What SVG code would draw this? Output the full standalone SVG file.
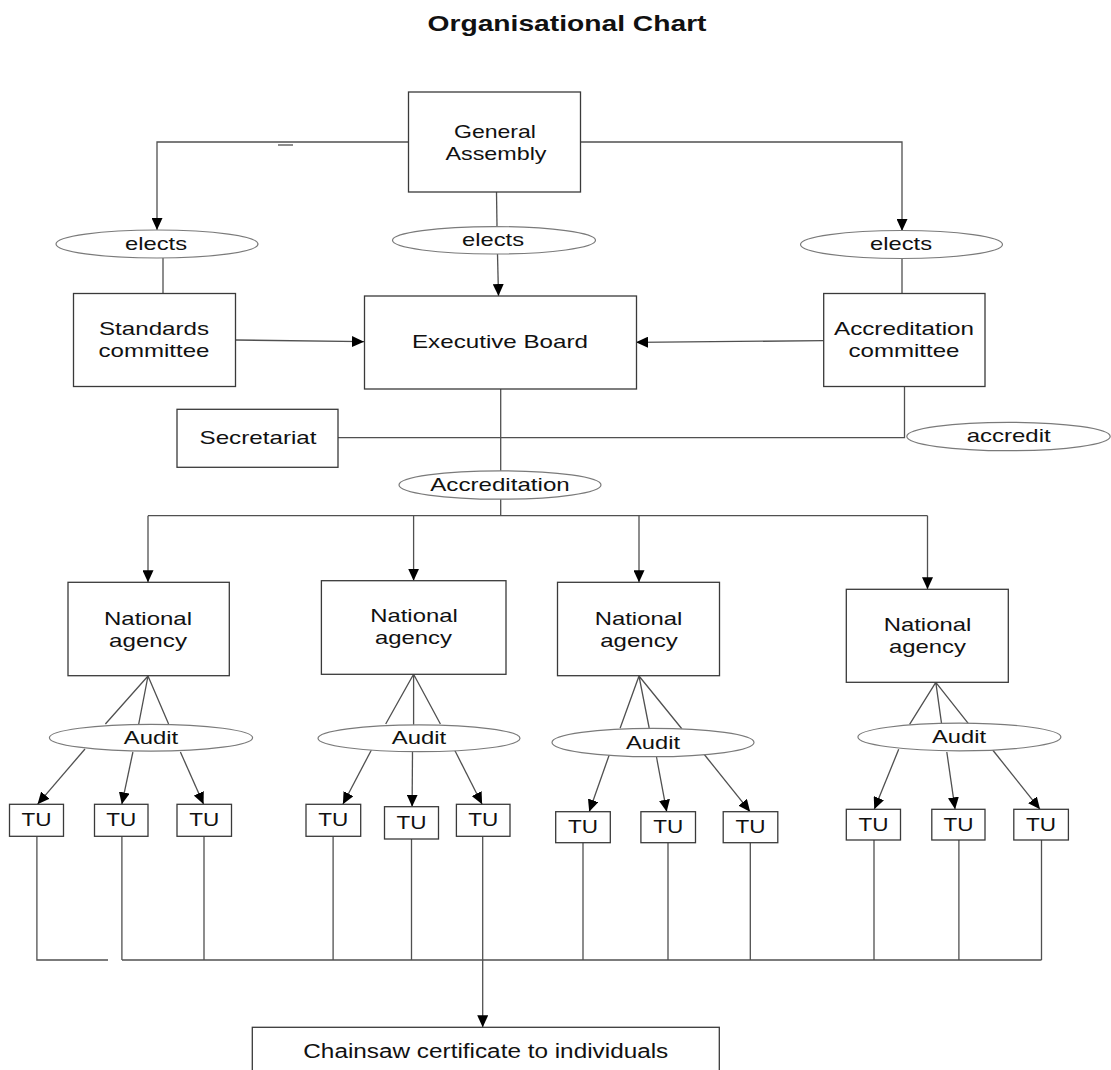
<svg xmlns="http://www.w3.org/2000/svg" width="1111" height="1070" viewBox="0 0 1111 1070">
<style>
.box{fill:#fff;stroke:#3a3a3a;stroke-width:1.3}
.ell{fill:#fff;stroke:#7a7a7a;stroke-width:1.2}
.ln{fill:none;stroke:#505050;stroke-width:1.3}
.arr{fill:none;stroke:#505050;stroke-width:1.3;marker-end:url(#ah)}
text{font-family:"Liberation Sans",Arial,sans-serif;font-size:19px;fill:#111;text-anchor:middle}
.title{font-size:22px;font-weight:bold}
</style>
<defs>
<marker id="ah" markerWidth="12" markerHeight="11" refX="12" refY="5.5" orient="auto" markerUnits="userSpaceOnUse">
<path d="M0,0 L12,5.5 L0,11 z" fill="#000"/>
</marker>
</defs>
<rect width="1111" height="1070" fill="#fff"/>
<text class="title" x="567" y="31" textLength="279" lengthAdjust="spacingAndGlyphs">Organisational Chart</text>

<g id="connectors">
<path class="arr" d="M408,142 H157 V230"/>
<path class="ln" d="M278,145 H293"/>
<path class="arr" d="M581,142 H902 V231"/>
<path class="ln" d="M496.5,192 L497,226.5"/>
<path class="arr" d="M497.5,254 L498.5,296"/>
<path class="ln" d="M163,258 V293.5"/>
<path class="ln" d="M902,258.5 V293.5"/>
<path class="arr" d="M235.5,340 L364,341.7"/>
<path class="arr" d="M823.7,340.7 L636,342.3"/>
<path class="ln" d="M500.7,389 V471"/>
<path class="ln" d="M500.7,499 V515.7"/>
<path class="ln" d="M338,437.7 H904.5 V386.7"/>
<path class="ln" d="M148,515.7 H927.5"/>
<path class="arr" d="M148,515.7 V582.3"/>
<path class="arr" d="M413.6,515.7 V580.7"/>
<path class="arr" d="M639,515.7 V582.3"/>
<path class="arr" d="M927.5,515.7 V589.3"/>
<!-- NA1 fan -->
<path class="ln" d="M105.4,724 L148,676 L138.6,724.7 M148,676 L168.6,724"/>
<path class="arr" d="M85,749 L37.5,804.3"/>
<path class="arr" d="M132.9,752 L121.8,804.3"/>
<path class="arr" d="M180.4,752 L203.6,804.3"/>
<!-- NA2 fan -->
<path class="ln" d="M385.7,724 L413.6,674.3 L413.6,724.7 M413.6,674.3 L440.4,724"/>
<path class="arr" d="M371.4,750 L342.9,804.3"/>
<path class="arr" d="M412.5,752 L412.1,806.7"/>
<path class="arr" d="M454.6,750 L482.1,804.3"/>
<!-- NA3 fan -->
<path class="ln" d="M620.1,728.3 L639,676 L649.2,728 M639,676 L682,729"/>
<path class="arr" d="M609.2,755 L589.2,811.7"/>
<path class="arr" d="M656.5,757 L666.7,811.7"/>
<path class="arr" d="M703.9,754 L750.1,811.7"/>
<!-- NA4 fan -->
<path class="ln" d="M909.6,724.3 L935.8,682.3 L941.7,724.7 M935.8,682.3 L969,724.3"/>
<path class="arr" d="M898.7,749.3 L874.3,809.3"/>
<path class="arr" d="M946.8,752 L955.1,809.3"/>
<path class="arr" d="M992.7,750 L1040,809.3"/>
<!-- TU down lines -->
<path class="ln" d="M36.9,836.3 V960 H108"/>
<path class="ln" d="M122,960 H1041.5"/>
<path class="ln" d="M121.9,836.3 V960 M204,836.3 V960 M333.1,836.3 V960 M411.5,839 V960 M583,842.7 V960 M668,842.7 V960 M750.3,842.7 V960 M874,840 V960 M958.9,840 V960 M1041.5,840 V960"/>
<path class="arr" d="M482.7,836.3 V1027.3"/>
</g>

<g id="general-assembly">
<rect class="box" x="408.5" y="92" width="172" height="100"/>
<text x="495" y="138" textLength="82" lengthAdjust="spacingAndGlyphs">General</text>
<text x="496" y="160" textLength="101" lengthAdjust="spacingAndGlyphs">Assembly</text>
</g>
<g id="elects-left">
<ellipse class="ell" cx="157" cy="244" rx="101" ry="14"/>
<text x="156" y="250" textLength="62" lengthAdjust="spacingAndGlyphs">elects</text>
</g>
<g id="elects-middle">
<ellipse class="ell" cx="494" cy="240.3" rx="101.5" ry="13.7"/>
<text x="493" y="246" textLength="62" lengthAdjust="spacingAndGlyphs">elects</text>
</g>
<g id="elects-right">
<ellipse class="ell" cx="901.5" cy="244.5" rx="101" ry="14"/>
<text x="901" y="250" textLength="62" lengthAdjust="spacingAndGlyphs">elects</text>
</g>
<g id="standards-committee">
<rect class="box" x="73.5" y="293.5" width="162" height="93"/>
<text x="154" y="335" textLength="110" lengthAdjust="spacingAndGlyphs">Standards</text>
<text x="154" y="357" textLength="111" lengthAdjust="spacingAndGlyphs">committee</text>
</g>
<g id="executive-board">
<rect class="box" x="364.5" y="296" width="272" height="93"/>
<text x="500" y="348" textLength="176" lengthAdjust="spacingAndGlyphs">Executive Board</text>
</g>
<g id="accreditation-committee">
<rect class="box" x="823.7" y="293.5" width="161.3" height="93"/>
<text x="904" y="335" textLength="140" lengthAdjust="spacingAndGlyphs">Accreditation</text>
<text x="904" y="357" textLength="111" lengthAdjust="spacingAndGlyphs">committee</text>
</g>
<g id="secretariat">
<rect class="box" x="177" y="409.3" width="161" height="58"/>
<text x="258" y="443.5" textLength="117" lengthAdjust="spacingAndGlyphs">Secretariat</text>
</g>
<g id="accredit">
<ellipse class="ell" cx="1008.5" cy="436.5" rx="101.7" ry="14.2"/>
<text x="1008.7" y="442" textLength="84" lengthAdjust="spacingAndGlyphs">accredit</text>
</g>
<g id="accreditation">
<ellipse class="ell" cx="500" cy="485" rx="101" ry="14.2"/>
<text x="500" y="490.5" textLength="139.5" lengthAdjust="spacingAndGlyphs">Accreditation</text>
</g>

<g id="national-agency-1">
<rect class="box" x="68" y="582.3" width="161.3" height="93.4"/>
<text x="148" y="624.5" textLength="88" lengthAdjust="spacingAndGlyphs">National</text>
<text x="148" y="646.5" textLength="78" lengthAdjust="spacingAndGlyphs">agency</text>
</g>
<g id="national-agency-2">
<rect class="box" x="321.4" y="580.7" width="184.6" height="93.6"/>
<text x="414" y="621.7" textLength="87.5" lengthAdjust="spacingAndGlyphs">National</text>
<text x="413.5" y="644" textLength="77" lengthAdjust="spacingAndGlyphs">agency</text>
</g>
<g id="national-agency-3">
<rect class="box" x="557.5" y="582.3" width="162" height="93.4"/>
<text x="638.5" y="624.5" textLength="87.5" lengthAdjust="spacingAndGlyphs">National</text>
<text x="639" y="646.5" textLength="77.5" lengthAdjust="spacingAndGlyphs">agency</text>
</g>
<g id="national-agency-4">
<rect class="box" x="846.3" y="589.3" width="162" height="93"/>
<text x="927.5" y="630.5" textLength="87.5" lengthAdjust="spacingAndGlyphs">National</text>
<text x="927.5" y="653" textLength="77" lengthAdjust="spacingAndGlyphs">agency</text>
</g>

<g id="audit-1">
<ellipse class="ell" cx="151" cy="737.7" rx="101.6" ry="13.4"/>
<text x="151" y="743.5" textLength="54.5" lengthAdjust="spacingAndGlyphs">Audit</text>
</g>
<g id="audit-2">
<ellipse class="ell" cx="419" cy="738.3" rx="101" ry="13.4"/>
<text x="419" y="744" textLength="54.5" lengthAdjust="spacingAndGlyphs">Audit</text>
</g>
<g id="audit-3">
<ellipse class="ell" cx="653" cy="742.5" rx="101" ry="14.2"/>
<text x="653" y="748.5" textLength="54" lengthAdjust="spacingAndGlyphs">Audit</text>
</g>
<g id="audit-4">
<ellipse class="ell" cx="959.4" cy="737" rx="101.5" ry="13.8"/>
<text x="959" y="743.3" textLength="54" lengthAdjust="spacingAndGlyphs">Audit</text>
</g>

<g id="tu-1"><rect class="box" x="9.5" y="804.3" width="54" height="32"/><text x="36.5" y="826" textLength="30" lengthAdjust="spacingAndGlyphs">TU</text></g>
<g id="tu-2"><rect class="box" x="94.5" y="804.3" width="53.5" height="32"/><text x="121.2" y="826" textLength="30" lengthAdjust="spacingAndGlyphs">TU</text></g>
<g id="tu-3"><rect class="box" x="177" y="804.3" width="54.5" height="32"/><text x="204.2" y="826" textLength="30" lengthAdjust="spacingAndGlyphs">TU</text></g>
<g id="tu-4"><rect class="box" x="306" y="804.3" width="54.7" height="32"/><text x="333.3" y="826" textLength="30" lengthAdjust="spacingAndGlyphs">TU</text></g>
<g id="tu-5"><rect class="box" x="384.5" y="806.7" width="54" height="32.3"/><text x="411.5" y="828.5" textLength="30" lengthAdjust="spacingAndGlyphs">TU</text></g>
<g id="tu-6"><rect class="box" x="456.4" y="804.3" width="53.6" height="32"/><text x="483.2" y="826" textLength="30" lengthAdjust="spacingAndGlyphs">TU</text></g>
<g id="tu-7"><rect class="box" x="555.7" y="811.7" width="54.6" height="31"/><text x="583" y="833" textLength="30" lengthAdjust="spacingAndGlyphs">TU</text></g>
<g id="tu-8"><rect class="box" x="640.9" y="811.7" width="54.6" height="31"/><text x="668.2" y="833" textLength="30" lengthAdjust="spacingAndGlyphs">TU</text></g>
<g id="tu-9"><rect class="box" x="723.2" y="811.7" width="54.6" height="31"/><text x="750.5" y="833" textLength="30" lengthAdjust="spacingAndGlyphs">TU</text></g>
<g id="tu-10"><rect class="box" x="846.3" y="809.3" width="54.2" height="30.7"/><text x="873.4" y="830.5" textLength="30" lengthAdjust="spacingAndGlyphs">TU</text></g>
<g id="tu-11"><rect class="box" x="931.8" y="809.3" width="53.2" height="30.7"/><text x="958.4" y="830.5" textLength="30" lengthAdjust="spacingAndGlyphs">TU</text></g>
<g id="tu-12"><rect class="box" x="1013.8" y="809.3" width="54.6" height="30.7"/><text x="1041.1" y="830.5" textLength="30" lengthAdjust="spacingAndGlyphs">TU</text></g>

<g id="chainsaw-certificate">
<rect class="box" x="252.3" y="1027.3" width="467" height="60"/>
<text x="485.8" y="1058" style="font-size:20px" textLength="365" lengthAdjust="spacingAndGlyphs">Chainsaw certificate to individuals</text>
</g>
</svg>
